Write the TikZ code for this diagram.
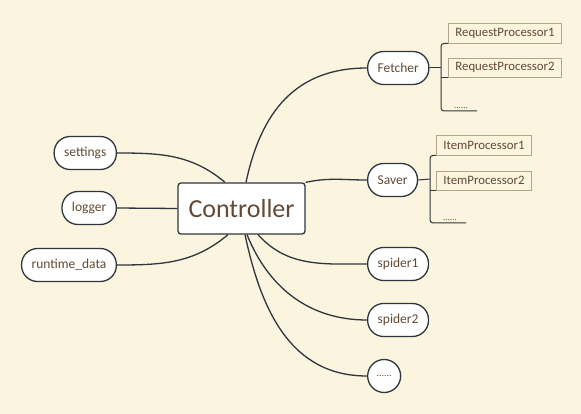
\documentclass[tikz,border=0pt]{standalone}
\usepackage{fontspec}
\setmainfont{Carlito}
\usetikzlibrary{positioning,calc}
\definecolor{PaperCream}{RGB}{251,244,222}
\definecolor{InkGray}{RGB}{46,54,62}
\definecolor{TextBrown}{RGB}{98,74,52}
\definecolor{TagTan}{RGB}{182,166,136}

\begin{document}
\begin{tikzpicture}[x=1pt,y=1pt,
    topic/.style={draw=InkGray,line width=1.3pt,fill=white,rounded corners=16pt,
      minimum height=33pt,inner xsep=10pt,text=TextBrown,
      font=\fontsize{13.5}{16}\selectfont},
    tag/.style={draw=TagTan,line width=0.8pt,fill=PaperCream,minimum height=20pt,
      inner xsep=7pt,text=TextBrown,anchor=west,
      font=\fontsize{12.8}{14}\selectfont},
    branch/.style={InkGray,line width=1.3pt},
    twig/.style={InkGray,line width=1pt,rounded corners=3pt}]
  % paper
  \fill[PaperCream] (0,0) rectangle (581,-414);
  \useasboundingbox (0,0) rectangle (581,-414);

  % central topic
  \node[draw=InkGray,line width=1.3pt,fill=white,rounded corners=3pt,
    minimum width=127pt,minimum height=51pt,text=TextBrown,
    font=\fontsize{26}{30}\selectfont] (ctrl) at (241.5,-208.5) {Controller};

  % left topics
  \node[topic,anchor=east] (settings) at (117,-153) {settings};
  \node[topic,anchor=east] (logger) at (117,-208) {logger};
  \node[topic,anchor=east] (runtime) at (117,-265) {runtime\_data};

  % right topics
  \node[topic,anchor=west] (fetcher) at (367,-68) {Fetcher};
  \node[topic,anchor=west] (saver) at (367,-180) {Saver};
  \node[topic,anchor=west] (spider1) at (367,-264) {spider1};
  \node[topic,anchor=west] (spider2) at (367,-320) {spider2};
  \node[draw=InkGray,line width=1.3pt,fill=white,circle,minimum size=33pt,
    inner sep=0pt,text=TextBrown,anchor=west,
    font=\fontsize{10}{12}\selectfont] (more) at (367,-376) {......};

  % branches
  \draw[branch] (settings.east) to[out=0,in=140] ([xshift=-16.5pt]ctrl.north);
  \draw[branch] (logger.east) -- (ctrl.west);
  \draw[branch] (runtime.east) to[out=0,in=-140] ([xshift=-13.5pt]ctrl.south);
  \draw[branch] ([xshift=4.5pt]ctrl.north) to[out=78,in=180,looseness=1.1] (fetcher.west);
  \draw[branch] (ctrl.north east) to[out=12,in=180] (saver.west);
  \draw[branch] ([xshift=16.5pt]ctrl.south) to[out=-48,in=180] (spider1.west);
  \draw[branch] ([xshift=5.5pt]ctrl.south) to[out=-68,in=180] (spider2.west);
  \draw[branch] ([xshift=3.5pt]ctrl.south) to[out=-78,in=180,looseness=1.05] (more.west);

  % fetcher sub-topics
  \node[tag,minimum height=20pt] (rp1) at (448,-33) {RequestProcessor1};
  \node[tag,minimum height=19pt] (rp2) at (448,-67.5) {RequestProcessor2};
  \node[text=TextBrown,font=\fontsize{9}{10}\selectfont,anchor=south west,inner sep=1pt]
    (fmore) at (453,-110) {......};
  \coordinate (fbr) at (441,-68);
  \coordinate (fend) at (477,-111);
  \draw[twig] (fetcher.east) -- (fbr);
  \draw[twig] (rp1.south west) -- (fbr |- rp1.south) -- (fbr |- fend) -- (fend);
  \draw[twig] (fbr |- rp2.south) -- (rp2.south west);

  % saver sub-topics
  \node[tag,minimum height=20pt] (ip1) at (436,-145) {ItemProcessor1};
  \node[tag,minimum height=19pt] (ip2) at (436,-180.5) {ItemProcessor2};
  \node[text=TextBrown,font=\fontsize{9}{10}\selectfont,anchor=south west,inner sep=1pt]
    (smore) at (442,-222) {......};
  \coordinate (sbr) at (430,-179);
  \coordinate (send) at (466,-223);
  \draw[twig] (saver.east) -- (sbr);
  \draw[twig] (ip1.south west) -- (sbr |- ip1.south) -- (sbr |- send) -- (send);
  \draw[twig] (sbr |- ip2.south) -- (ip2.south west);
\end{tikzpicture}
\end{document}
